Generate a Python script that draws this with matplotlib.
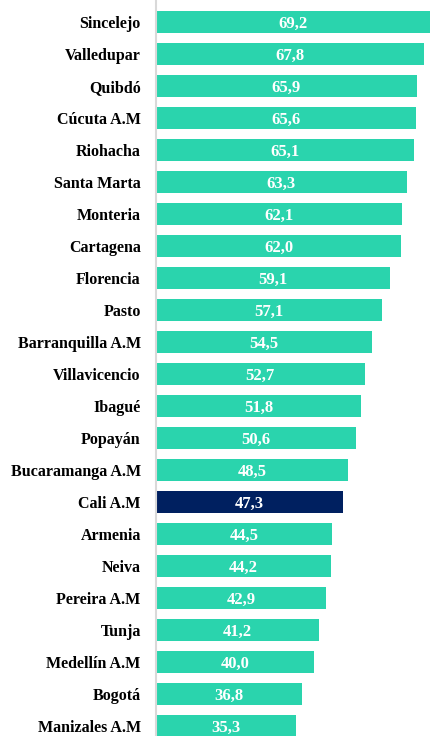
import matplotlib.pyplot as plt

ciudades = ["Sincelejo", "Valledupar", "Quibdó", "Cúcuta A.M", "Riohacha", "Santa Marta",
            "Monteria", "Cartagena", "Florencia", "Pasto", "Barranquilla A.M", "Villavicencio",
            "Ibagué", "Popayán", "Bucaramanga A.M", "Cali A.M", "Armenia", "Neiva",
            "Pereira A.M", "Tunja", "Medellín A.M", "Bogotá", "Manizales A.M"]
valores = [69.2, 67.8, 65.9, 65.6, 65.1, 63.3, 62.1, 62.0, 59.1, 57.1, 54.5, 52.7,
           51.8, 50.6, 48.5, 47.3, 44.5, 44.2, 42.9, 41.2, 40.0, 36.8, 35.3]
destacada = "Cali A.M"

verde = "#2ad4ad"
azul = "#002060"

fig = plt.figure(figsize=(4.3, 7.36), dpi=100)
ax = fig.add_axes([156 / 430, 0, 1 - 156 / 430, 1])

colores = [azul if c == destacada else verde for c in ciudades]
pos = list(range(len(ciudades)))
ax.barh(pos, valores, height=0.69, color=colores)

for i, v in enumerate(valores):
    ax.text(v / 2, i + 0.05, f"{v:.1f}".replace(".", ","), ha="center", va="center",
            color="white", fontsize=12, fontweight="bold", family="Liberation Serif")

ax.set_xlim(0, 69.2)
ax.set_ylim(22.3125, -0.6875)
ax.set_yticks(pos)
ax.set_yticklabels(ciudades, fontsize=11.5, fontweight="bold", family="Liberation Serif")
ax.tick_params(axis="y", length=0, pad=11)
ax.set_xticks([])
for s in ["top", "right", "bottom"]:
    ax.spines[s].set_visible(False)
ax.spines["left"].set_color("#d9d9d9")
ax.spines["left"].set_linewidth(1.5)

fig.savefig("out.png", dpi=100)
